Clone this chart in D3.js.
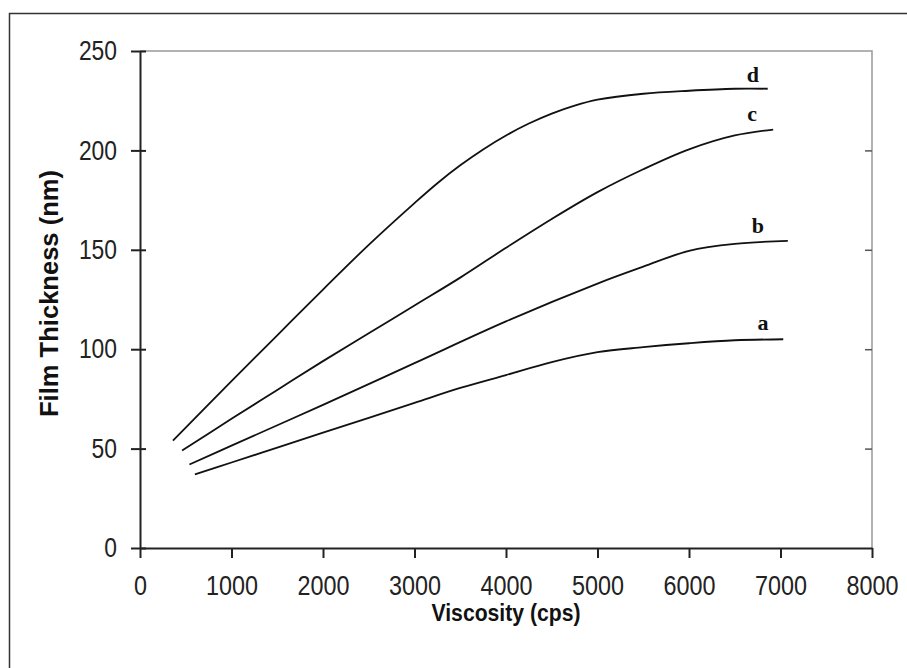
<!DOCTYPE html>
<html>
<head>
<meta charset="utf-8">
<script src="https://cdn.jsdelivr.net/npm/d3@7"></script>
<style>
  body { margin: 0; background: #fff; }
  svg { display: block; }
</style>
</head>
<body>
<svg id="chart" width="907" height="668"></svg>
<script>
// viscosity (cps) vs film thickness (nm)
var seriesA = [[600,37],[1000,43],[1500,50.5],[2000,58],[2500,65.5],[3000,73],[3500,80.5],[4000,87],[4500,93.5],[5000,98.5],[5500,101],[6000,103],[6500,104.5],[7030,105]];
var seriesB = [[540,42],[1000,51.5],[2000,72],[3000,93],[4000,114],[5000,133],[5500,141.5],[6000,149.5],[6500,153],[7080,154.5]];
var seriesC = [[460,49],[1000,65],[1500,79.5],[2000,94],[2500,108],[3000,122],[3500,136],[4000,151],[4500,165.5],[5000,179],[5500,190.5],[6000,200.5],[6500,207.5],[6920,210.5]];
var seriesD = [[360,54],[1000,84],[1500,107],[2000,130],[2500,152.5],[3000,173.5],[3250,183.5],[3500,192.5],[3750,200.5],[4000,207.5],[4250,213.5],[4500,218.5],[4750,222.5],[5000,225.5],[5500,228.5],[6000,230],[6500,231],[6860,231]];

var seriesNames = ['a', 'b', 'c', 'd'];
var labelPos = [[6809,109.7],[6754,158.5],[6689,214.8],[6699,234.4]];

var xTicks = [0,1000,2000,3000,4000,5000,6000,7000,8000];
var yTicks = [0,50,100,150,200,250];

var svg = d3.select('#chart');

// outer frame (only left/top edge inside the picture)
svg.append('rect')
	.attr('x', 9.5).attr('y', 13.5)
	.attr('width', 920).attr('height', 700)
	.attr('fill', 'none').attr('stroke', '#333').attr('stroke-width', 1.5);

var x = d3.scaleLinear().domain([0, 8000]).range([140, 872]);
var y = d3.scaleLinear().domain([0, 250]).range([548, 51]);

// plot area border, grey top & right
svg.append('path')
	.attr('d', 'M' + x(0) + ',' + y(250) + 'H' + x(8000) + 'V' + y(0))
	.attr('fill', 'none').attr('stroke', '#999').attr('stroke-width', 1.5);

// right side inner ticks
var rightAxis = svg.append('g')
	.attr('transform', 'translate(' + x(8000) + ',0)')
	.call(d3.axisLeft(y).tickValues(yTicks.slice(1, 5)).tickSize(7).tickFormat(''));
rightAxis.select('.domain').remove();
rightAxis.selectAll('line').attr('stroke', '#555').attr('stroke-width', 1.5);

var tickFont = 'Liberation Sans, Arial, sans-serif';
var fmt = d3.format('d');

var yAxis = svg.append('g')
	.attr('transform', 'translate(' + x(0) + ',0)')
	.call(d3.axisLeft(y).tickValues(yTicks).tickFormat(fmt).tickSize(9).tickPadding(14).tickSizeOuter(0));
yAxis.select('.domain').attr('stroke', '#222').attr('stroke-width', 2);
yAxis.selectAll('line').attr('x1', 6).attr('stroke', '#222').attr('stroke-width', 2);
yAxis.selectAll('text')
	.attr('font-family', tickFont).attr('font-size', 27).attr('fill', '#222')
	.attr('textLength', function(d) { return String(d).length * 12.7; })
	.attr('lengthAdjust', 'spacingAndGlyphs');

var xAxis = svg.append('g')
	.attr('transform', 'translate(0,' + y(0) + ')')
	.call(d3.axisBottom(x).tickValues(xTicks).tickFormat(fmt).tickSize(10).tickPadding(18).tickSizeOuter(0));
xAxis.select('.domain').attr('stroke', '#222').attr('stroke-width', 2);
xAxis.selectAll('line').attr('stroke', '#222').attr('stroke-width', 2);
xAxis.selectAll('text')
	.attr('font-family', tickFont).attr('font-size', 27).attr('fill', '#222')
	.attr('textLength', function(d) { return String(d).length * 13; })
	.attr('lengthAdjust', 'spacingAndGlyphs');

// axis titles
svg.append('text')
	.attr('x', (x(0) + x(8000)) / 2).attr('y', 621)
	.attr('text-anchor', 'middle')
	.attr('font-family', tickFont).attr('font-weight', 'bold').attr('font-size', 23)
	.attr('textLength', 149).attr('lengthAdjust', 'spacingAndGlyphs')
	.attr('fill', '#111')
	.text('Viscosity (cps)');

svg.append('text')
	.attr('transform', 'translate(58,' + ((y(0) + y(250)) / 2 - 6) + ') rotate(-90)')
	.attr('text-anchor', 'middle')
	.attr('font-family', tickFont).attr('font-weight', 'bold').attr('font-size', 26)
	.attr('textLength', 247).attr('lengthAdjust', 'spacingAndGlyphs')
	.attr('fill', '#111')
	.text('Film Thickness (nm)');

// curves
var line = d3.line()
	.x(function(d) { return x(d[0]); })
	.y(function(d) { return y(d[1]); })
	.curve(d3.curveCatmullRom.alpha(0.5));

var allSeries = [seriesA, seriesB, seriesC, seriesD];
svg.selectAll('path.curve')
	.data(allSeries)
	.enter().append('path')
	.attr('class', 'curve')
	.attr('d', line)
	.attr('fill', 'none').attr('stroke', '#111').attr('stroke-width', 1.8);

svg.selectAll('text.curveLabel')
	.data(seriesNames)
	.enter().append('text')
	.attr('class', 'curveLabel')
	.attr('x', function(d, i) { return x(labelPos[i][0]); })
	.attr('y', function(d, i) { return y(labelPos[i][1]); })
	.attr('text-anchor', 'middle')
	.attr('font-family', 'Liberation Serif, Times New Roman, serif')
	.attr('font-weight', 'bold').attr('font-size', 22)
	.attr('fill', '#111')
	.text(function(d) { return d; });
</script>
</body>
</html>
